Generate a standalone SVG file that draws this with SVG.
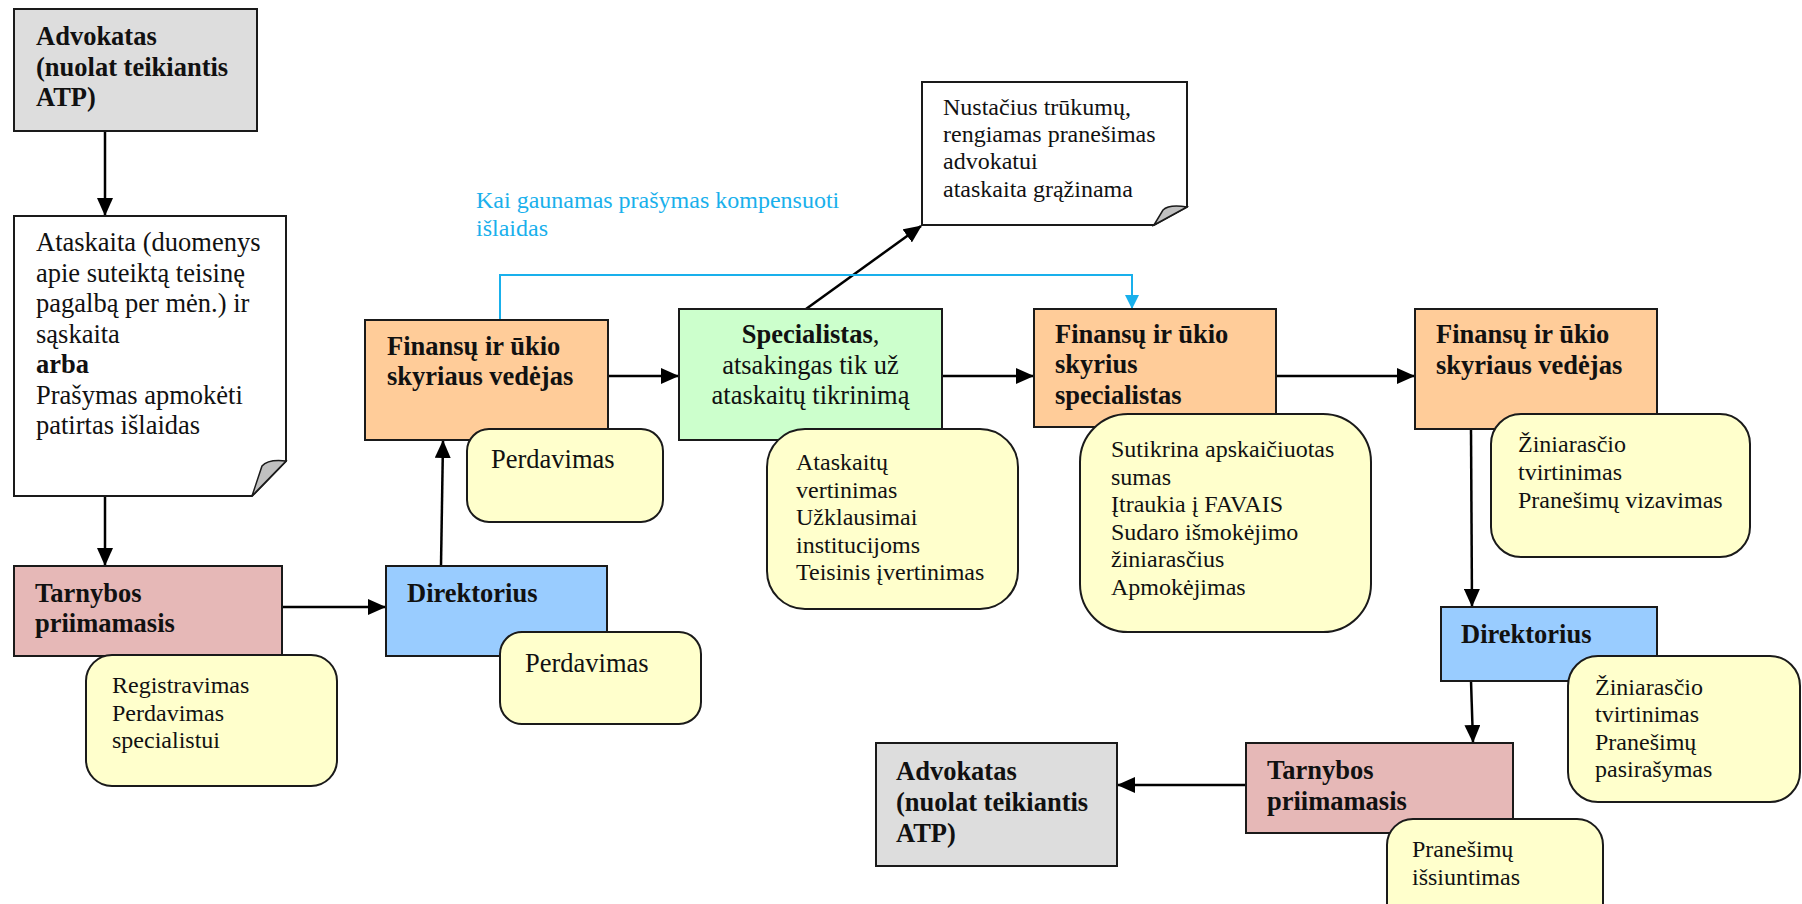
<svg xmlns="http://www.w3.org/2000/svg" width="1802" height="904" viewBox="0 0 1802 904">
<style>
.box{stroke:#1a1a1a;stroke-width:2}
.gray{fill:#DDDDDD}.pink{fill:#E6B8B7}.blue{fill:#99CCFF}.peach{fill:#FFCC99}.green{fill:#CCFFCC}
.call{fill:#FFFFCC;stroke:#1a1a1a;stroke-width:2}
.doc{fill:#FFFFFF;stroke:#1a1a1a;stroke-width:2}
.fold{fill:#C0C0C0;stroke:#1a1a1a;stroke-width:1.5}
text{font-family:"Liberation Serif","Times New Roman",serif;fill:#111}
.b{font-size:26.5px;font-weight:bold}
.r{font-size:26.5px}
.s{font-size:24px}
.cyan{fill:#19B0EC;font-size:24px}
.con{stroke:#000;stroke-width:2.5;fill:none}
.con2{stroke:#19B0EC;stroke-width:2;fill:none}
</style>
<defs>
<marker id="ah" markerUnits="userSpaceOnUse" markerWidth="18" markerHeight="16" refX="17" refY="8" orient="auto">
<path d="M0,0 L18,8 L0,16 Z" fill="#000"/>
</marker>
<marker id="ahb" markerUnits="userSpaceOnUse" markerWidth="14" markerHeight="14" refX="13" refY="7" orient="auto">
<path d="M0,0 L14,7 L0,14 Z" fill="#19B0EC"/>
</marker>
</defs>

<g id="connectors">
<line class="con" x1="105" y1="131" x2="105" y2="215" marker-end="url(#ah)"/>
<line class="con" x1="105" y1="496" x2="105" y2="565" marker-end="url(#ah)"/>
<line class="con" x1="282" y1="607" x2="385" y2="607" marker-end="url(#ah)"/>
<line class="con" x1="441" y1="566" x2="443" y2="441" marker-end="url(#ah)"/>
<line class="con" x1="608" y1="376" x2="678" y2="376" marker-end="url(#ah)"/>
<line class="con" x1="806" y1="309" x2="921" y2="226" marker-end="url(#ah)"/>
<line class="con" x1="942" y1="376" x2="1033" y2="376" marker-end="url(#ah)"/>
<path class="con2" d="M500,320 V275 H1132 V308" marker-end="url(#ahb)"/>
<line class="con" x1="1276" y1="376" x2="1414" y2="376" marker-end="url(#ah)"/>
<line class="con" x1="1471" y1="429" x2="1472" y2="606" marker-end="url(#ah)"/>
<line class="con" x1="1471" y1="681" x2="1473" y2="742" marker-end="url(#ah)"/>
<line class="con" x1="1246" y1="785" x2="1118" y2="785" marker-end="url(#ah)"/>
</g>

<g id="advokatas1">
<rect class="box gray" x="14" y="9" width="243" height="122"/>
<text class="b" x="36" y="45">Advokatas</text>
<text class="b" x="36" y="75.5">(nuolat teikiantis</text>
<text class="b" x="36" y="106">ATP)</text>
</g>

<g id="ataskaita-doc">
<path class="doc" d="M14,216 H286 V461 L252,496 H14 Z"/>
<path class="fold" d="M252,496 L262,466 Q268,459 286,461 Z"/>
<text class="r" x="36" y="251">Ataskaita (duomenys</text>
<text class="r" x="36" y="281.5">apie suteiktą teisinę</text>
<text class="r" x="36" y="312">pagalbą per mėn.) ir</text>
<text class="r" x="36" y="342.5">sąskaita</text>
<text class="b" x="36" y="373">arba</text>
<text class="r" x="36" y="403.5">Prašymas apmokėti</text>
<text class="r" x="36" y="434">patirtas išlaidas</text>
</g>

<g id="tarnybos1">
<rect class="box pink" x="14" y="566" width="268" height="90"/>
<text class="b" x="35" y="602">Tarnybos</text>
<text class="b" x="35" y="632">priimamasis</text>
</g>

<g id="direktorius1">
<rect class="box blue" x="386" y="566" width="221" height="90"/>
<text class="b" x="407" y="602">Direktorius</text>
</g>

<g id="finansu-vedejas1">
<rect class="box peach" x="365" y="320" width="243" height="120"/>
<text class="b" x="387" y="355">Finansų ir ūkio</text>
<text class="b" x="387" y="385">skyriaus vedėjas</text>
</g>

<g id="specialistas">
<rect class="box green" x="679" y="309" width="263" height="131"/>
<text class="r" x="810.5" y="343" text-anchor="middle"><tspan font-weight="bold">Specialistas</tspan>,</text>
<text class="r" x="810.5" y="374" text-anchor="middle">atsakingas tik už</text>
<text class="r" x="810.5" y="404" text-anchor="middle">ataskaitų tikrinimą</text>
</g>

<g id="note-trukumai">
<path class="doc" d="M922,82 H1187 V207 L1154,225 H922 Z"/>
<path class="fold" d="M1154,225 L1163,210 Q1169,204 1187,207 Z"/>
<text class="s" x="943" y="115">Nustačius trūkumų,</text>
<text class="s" x="943" y="142">rengiamas pranešimas</text>
<text class="s" x="943" y="169">advokatui</text>
<text class="s" x="943" y="197">ataskaita grąžinama</text>
</g>

<g id="label-kai">
<text class="cyan" x="476" y="208">Kai gaunamas prašymas kompensuoti</text>
<text class="cyan" x="476" y="236">išlaidas</text>
</g>

<g id="finansu-specialistas">
<rect class="box peach" x="1034" y="309" width="242" height="118"/>
<text class="b" x="1055" y="343">Finansų ir ūkio</text>
<text class="b" x="1055" y="373">skyrius</text>
<text class="b" x="1055" y="404">specialistas</text>
</g>

<g id="finansu-vedejas2">
<rect class="box peach" x="1415" y="309" width="242" height="120"/>
<text class="b" x="1436" y="343">Finansų ir ūkio</text>
<text class="b" x="1436" y="374">skyriaus vedėjas</text>
</g>

<g id="direktorius2">
<rect class="box blue" x="1441" y="607" width="216" height="74"/>
<text class="b" x="1461" y="643">Direktorius</text>
</g>

<g id="tarnybos2">
<rect class="box pink" x="1246" y="743" width="267" height="90"/>
<text class="b" x="1267" y="779">Tarnybos</text>
<text class="b" x="1267" y="810">priimamasis</text>
</g>

<g id="advokatas2">
<rect class="box gray" x="876" y="743" width="241" height="123"/>
<text class="b" x="896" y="780">Advokatas</text>
<text class="b" x="896" y="811">(nuolat teikiantis</text>
<text class="b" x="896" y="842">ATP)</text>
</g>

<g id="callout-registravimas">
<rect class="call" x="86" y="655" width="251" height="131" rx="26" ry="26"/>
<text class="s" x="112" y="693">Registravimas</text>
<text class="s" x="112" y="720.5">Perdavimas</text>
<text class="s" x="112" y="748">specialistui</text>
</g>

<g id="callout-perdavimas2">
<rect class="call" x="500" y="632" width="201" height="92" rx="22" ry="22"/>
<text class="r" x="525" y="672">Perdavimas</text>
</g>

<g id="callout-perdavimas1">
<rect class="call" x="467" y="429" width="196" height="93" rx="22" ry="22"/>
<text class="r" x="491" y="468">Perdavimas</text>
</g>

<g id="callout-ataskaitu">
<rect class="call" x="767" y="429" width="251" height="180" rx="38" ry="38"/>
<text class="s" x="796" y="470">Ataskaitų</text>
<text class="s" x="796" y="497.5">vertinimas</text>
<text class="s" x="796" y="525">Užklausimai</text>
<text class="s" x="796" y="552.5">institucijoms</text>
<text class="s" x="796" y="580">Teisinis įvertinimas</text>
</g>

<g id="callout-sutikrina">
<rect class="call" x="1080" y="414" width="291" height="218" rx="48" ry="48"/>
<text class="s" x="1111" y="457">Sutikrina apskaičiuotas</text>
<text class="s" x="1111" y="484.5">sumas</text>
<text class="s" x="1111" y="512">Įtraukia į FAVAIS</text>
<text class="s" x="1111" y="539.5">Sudaro išmokėjimo</text>
<text class="s" x="1111" y="567">žiniarasčius</text>
<text class="s" x="1111" y="594.5">Apmokėjimas</text>
</g>

<g id="callout-ziniarascio1">
<rect class="call" x="1491" y="414" width="259" height="143" rx="30" ry="30"/>
<text class="s" x="1518" y="452">Žiniarasčio</text>
<text class="s" x="1518" y="480">tvirtinimas</text>
<text class="s" x="1518" y="508">Pranešimų vizavimas</text>
</g>

<g id="callout-ziniarascio2">
<rect class="call" x="1568" y="656" width="232" height="146" rx="30" ry="30"/>
<text class="s" x="1595" y="695">Žiniarasčio</text>
<text class="s" x="1595" y="722">tvirtinimas</text>
<text class="s" x="1595" y="749.5">Pranešimų</text>
<text class="s" x="1595" y="777">pasirašymas</text>
</g>

<g id="callout-issiuntimas">
<rect class="call" x="1387" y="819" width="216" height="110" rx="26" ry="26"/>
<text class="s" x="1412" y="857">Pranešimų</text>
<text class="s" x="1412" y="884.5">išsiuntimas</text>
</g>
</svg>
